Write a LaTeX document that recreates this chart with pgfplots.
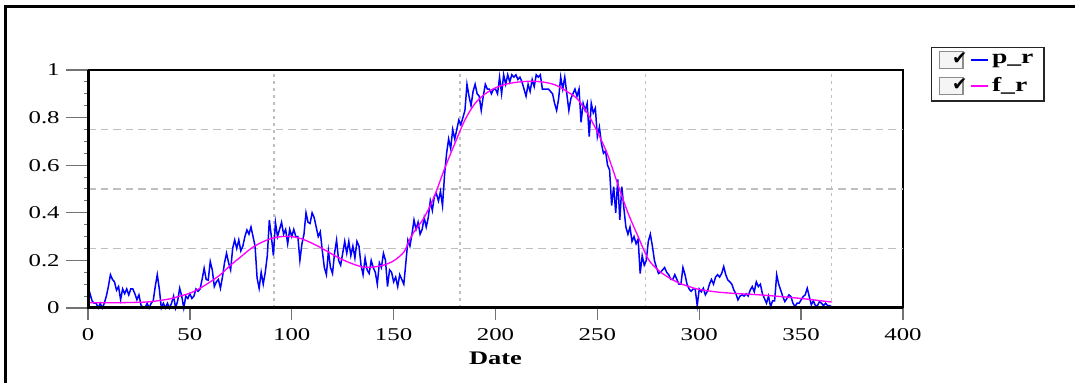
\documentclass[border=0pt]{standalone}
\usepackage{pgfplots}
\pgfplotsset{compat=1.18}
\usepackage{fontspec}
\setmainfont[FakeStretch=1.38]{Liberation Serif}
\newfontfamily\checkfont{DejaVu Sans}
\definecolor{mag}{RGB}{255,0,255}
\definecolor{pblue}{RGB}{0,0,255}
\newcommand{\checkbox}{\draw[draw=gray!90, fill=gray!8, line width=0.8pt] (0pt,-5pt) rectangle (14pt,5pt); \node[inner sep=0pt, text=black, font=\checkfont\fontsize{11}{11}\selectfont] at (7pt,0pt) {✔};}
\begin{document}
\begin{tikzpicture}
\useasboundingbox (0,0) rectangle (645pt,229.8pt);
\draw[line width=1.8pt] (3.3pt,-5pt) -- (3.3pt,225.6pt) -- (660pt,225.6pt);
\begin{axis}[
  at={(52.8pt,45pt)}, anchor=south west,
  scale only axis, width=489pt, height=142.8pt,
  clip=false,
  xmin=0, xmax=400, ymin=0, ymax=1,
  xtick={0,50,100,150,200,250,300,350,400},
  ytick={0,0.2,0.4,0.6,0.8,1},
  minor y tick num=3,
  tick align=outside,
  xtick pos=bottom, ytick pos=left,
  axis line style={line width=0.8pt, black},
  major tick length=7.2pt,
  minor tick length=2.4pt,
  tick style={black!55, line width=0.8pt},
  minor tick style={black!55, line width=0.6pt},
  /pgf/number format/assume math mode=true,
  ticklabel style={font=\fontsize{10.8}{12}\selectfont},
  yticklabel style={anchor=east, inner xsep=9.6pt, inner ysep=0pt},
  xticklabel style={anchor=center, inner sep=0pt, yshift=-9pt},
  xlabel={\textbf{Date}},
  xlabel style={at={(axis description cs:0.5,-0.21)}, anchor=center, font=\fontsize{11.5}{13}\selectfont},
  legend style={at={(1.034,1.098)}, anchor=north west, draw=black!85, line width=1pt,
    font=\bfseries\fontsize{12}{12}\selectfont, inner xsep=4.5pt, inner ysep=2pt, row sep=3pt},
  legend cell align=left,
]
\draw[gray!50, line width=0.8pt, dash pattern=on 2pt off 2.2pt] (axis cs:91.25,0) -- (axis cs:91.25,1);
\draw[gray!50, line width=0.8pt, dash pattern=on 2pt off 2.2pt] (axis cs:182.5,0) -- (axis cs:182.5,1);
\draw[gray!50, line width=0.8pt, dash pattern=on 2pt off 2.2pt] (axis cs:273.75,0) -- (axis cs:273.75,1);
\draw[gray!50, line width=0.8pt, dash pattern=on 2pt off 2.2pt] (axis cs:365,0) -- (axis cs:365,1);
\draw[gray!50, line width=0.7pt, dash pattern=on 4.5pt off 3pt] (axis cs:0,0.25) -- (axis cs:400,0.25);
\draw[gray!50, line width=0.7pt, dash pattern=on 4.5pt off 3pt] (axis cs:0,0.5) -- (axis cs:400,0.5);
\draw[gray!50, line width=0.7pt, dash pattern=on 4.5pt off 3pt] (axis cs:0,0.75) -- (axis cs:400,0.75);
\pgfplotsinvokeforeach{0,0.2,0.4,0.6,0.8,1}{\draw[black!55, line width=0.8pt] (axis cs:0,#1) -- ++(-13pt,0pt);}
\pgfplotsinvokeforeach{0,50,100,150,200,250,300,350,400}{\draw[black!55, line width=0.8pt] (axis cs:#1,0) -- ++(0pt,-7.2pt);}
\addplot[pblue, line width=0.9pt, legend image code/.code={\checkbox \draw[pblue, line width=0.8pt] (19pt,0pt) -- (29pt,0pt);}] coordinates {
(0,0.02)(1,0.06)(2,0.03)(3,0.02)(4,0.02)(5,0.0)(6,0.02)(7,0.0)(8,0.02)(9,0.05)
(10,0.09)(11,0.14)(12,0.12)(13,0.11)(14,0.075)(15,0.09)(16,0.035)(17,0.08)(18,0.06)(19,0.08)
(20,0.055)(21,0.08)(22,0.08)(23,0.06)(24,0.035)(25,0.055)(26,0.013)(27,0.0)(28,0.0)(29,0.02)
(30,0.0)(31,0.02)(32,0.03)(33,0.09)(34,0.14)(35,0.08)(36,0.0)(37,0.02)(38,0.0)(39,0.02)
(40,0.0)(41,0.02)(42,0.05)(43,0.0)(44,0.03)(45,0.083)(46,0.05)(47,0.0)(48,0.05)(49,0.04)
(50,0.06)(51,0.04)(52,0.05)(53,0.08)(54,0.07)(55,0.08)(56,0.12)(57,0.167)(58,0.12)(59,0.117)
(60,0.195)(61,0.16)(62,0.09)(63,0.11)(64,0.12)(65,0.083)(66,0.13)(67,0.19)(68,0.23)(69,0.19)
(70,0.16)(71,0.25)(72,0.286)(73,0.25)(74,0.286)(75,0.24)(76,0.26)(77,0.30)(78,0.328)(79,0.31)
(80,0.34)(81,0.30)(82,0.26)(83,0.125)(84,0.083)(85,0.15)(86,0.10)(87,0.15)(88,0.22)(89,0.37)
(90,0.30)(91,0.22)(92,0.36)(93,0.30)(94,0.33)(95,0.36)(96,0.31)(97,0.33)(98,0.27)(99,0.33)
(100,0.30)(101,0.33)(102,0.30)(103,0.30)(104,0.20)(105,0.27)(106,0.31)(107,0.40)(108,0.36)(109,0.355)
(110,0.40)(111,0.38)(112,0.34)(113,0.30)(114,0.32)(115,0.24)(116,0.17)(117,0.14)(118,0.24)(119,0.17)
(120,0.145)(121,0.23)(122,0.285)(123,0.20)(124,0.18)(125,0.23)(126,0.28)(127,0.23)(128,0.28)(129,0.22)
(130,0.26)(131,0.21)(132,0.28)(133,0.26)(134,0.18)(135,0.14)(136,0.21)(137,0.16)(138,0.145)(139,0.20)
(140,0.17)(141,0.15)(142,0.10)(143,0.19)(144,0.17)(145,0.23)(146,0.20)(147,0.09)(148,0.16)(149,0.15)
(150,0.11)(151,0.13)(152,0.09)(153,0.14)(154,0.12)(155,0.10)(156,0.19)(157,0.285)(158,0.26)(159,0.31)
(160,0.37)(161,0.33)(162,0.36)(163,0.31)(164,0.33)(165,0.38)(166,0.34)(167,0.38)(168,0.45)(169,0.41)
(170,0.47)(171,0.48)(172,0.45)(173,0.49)(174,0.43)(175,0.56)(176,0.65)(177,0.71)(178,0.67)(179,0.75)
(180,0.71)(181,0.75)(182,0.79)(183,0.77)(184,0.80)(185,0.83)(186,0.94)(187,0.89)(188,0.85)(189,0.91)
(190,0.94)(191,0.90)(192,0.89)(193,0.83)(194,0.89)(195,0.94)(196,0.92)(197,0.92)(198,0.90)(199,0.92)
(200,0.92)(201,0.90)(202,0.97)(203,0.90)(204,0.98)(205,0.94)(206,0.98)(207,0.95)(208,0.98)(209,0.97)
(210,0.98)(211,0.96)(212,0.97)(213,0.95)(214,0.92)(215,0.89)(216,0.94)(217,0.91)(218,0.96)(219,0.93)
(220,0.98)(221,0.97)(222,0.98)(223,0.92)(224,0.92)(225,0.92)(226,0.92)(227,0.91)(228,0.90)(229,0.86)
(230,0.83)(231,0.88)(232,0.97)(233,0.92)(234,0.97)(235,0.90)(236,0.83)(237,0.88)(238,0.90)(239,0.92)
(240,0.89)(241,0.92)(242,0.78)(243,0.86)(244,0.83)(245,0.86)(246,0.72)(247,0.86)(248,0.82)(249,0.84)
(250,0.72)(251,0.76)(252,0.69)(253,0.65)(254,0.66)(255,0.60)(256,0.58)(257,0.43)(258,0.51)(259,0.40)
(260,0.54)(261,0.37)(262,0.51)(263,0.42)(264,0.34)(265,0.31)(266,0.34)(267,0.28)(268,0.30)(269,0.27)
(270,0.29)(271,0.145)(272,0.22)(273,0.18)(274,0.20)(275,0.28)(276,0.31)(277,0.26)(278,0.20)(279,0.17)
(280,0.145)(281,0.15)(282,0.16)(283,0.17)(284,0.15)(285,0.14)(286,0.12)(287,0.12)(288,0.14)(289,0.12)
(290,0.10)(291,0.10)(292,0.17)(293,0.14)(294,0.10)(295,0.08)(296,0.07)(297,0.08)(298,0.08)(299,0.01)
(300,0.08)(301,0.068)(302,0.083)(303,0.055)(304,0.07)(305,0.10)(306,0.12)(307,0.10)(308,0.13)(309,0.14)
(310,0.13)(311,0.145)(312,0.174)(313,0.14)(314,0.118)(315,0.11)(316,0.10)(317,0.075)(318,0.06)(319,0.034)
(320,0.05)(321,0.055)(322,0.05)(323,0.06)(324,0.05)(325,0.075)(326,0.09)(327,0.068)(328,0.11)(329,0.09)
(330,0.10)(331,0.06)(332,0.04)(333,0.02)(334,0.05)(335,0.005)(336,0.03)(337,0.03)(338,0.14)(339,0.10)
(340,0.075)(341,0.048)(342,0.027)(343,0.04)(344,0.055)(345,0.048)(346,0.02)(347,0.006)(348,0.02)(349,0.02)
(350,0.034)(351,0.048)(352,0.055)(353,0.083)(354,0.048)(355,0.013)(356,0.03)(357,0.01)(358,0.01)(359,0.027)
(360,0.02)(361,0.01)(362,0.02)(363,0.01)(364,0.01)(365,0.0)
};
\addlegendentry{p\_r}
\addplot[mag, line width=0.8pt, smooth, legend image code/.code={\checkbox \draw[mag, line width=0.8pt] (19pt,0pt) -- (29pt,0pt);}] coordinates {
(0,0.022)(10,0.022)(20,0.023)(30,0.026)(40,0.038)(45,0.05)(50,0.062)(55,0.083)(60,0.11)(65,0.14)
(70,0.18)(75,0.215)(80,0.25)(85,0.275)(90,0.292)(95,0.30)(100,0.30)(105,0.29)(110,0.272)(115,0.25)
(120,0.225)(125,0.203)(130,0.185)(135,0.172)(140,0.172)(145,0.18)(150,0.198)(155,0.235)(158,0.29)(160,0.32)
(165,0.38)(170,0.47)(175,0.585)(180,0.69)(185,0.79)(190,0.86)(195,0.90)(200,0.925)(205,0.94)(210,0.948)
(215,0.952)(220,0.952)(225,0.947)(230,0.935)(235,0.91)(240,0.88)(245,0.82)(250,0.74)(255,0.645)(260,0.52)
(265,0.40)(270,0.30)(275,0.205)(280,0.158)(285,0.128)(290,0.105)(295,0.09)(300,0.078)(310,0.066)(320,0.06)
(330,0.055)(340,0.048)(350,0.04)(360,0.03)(365,0.025)
};
\addlegendentry{f\_r}
\draw[line width=1.8pt] (rel axis cs:0,1) -- (rel axis cs:0,0) -- (rel axis cs:1,0);
\end{axis}
\end{tikzpicture}
\end{document}
